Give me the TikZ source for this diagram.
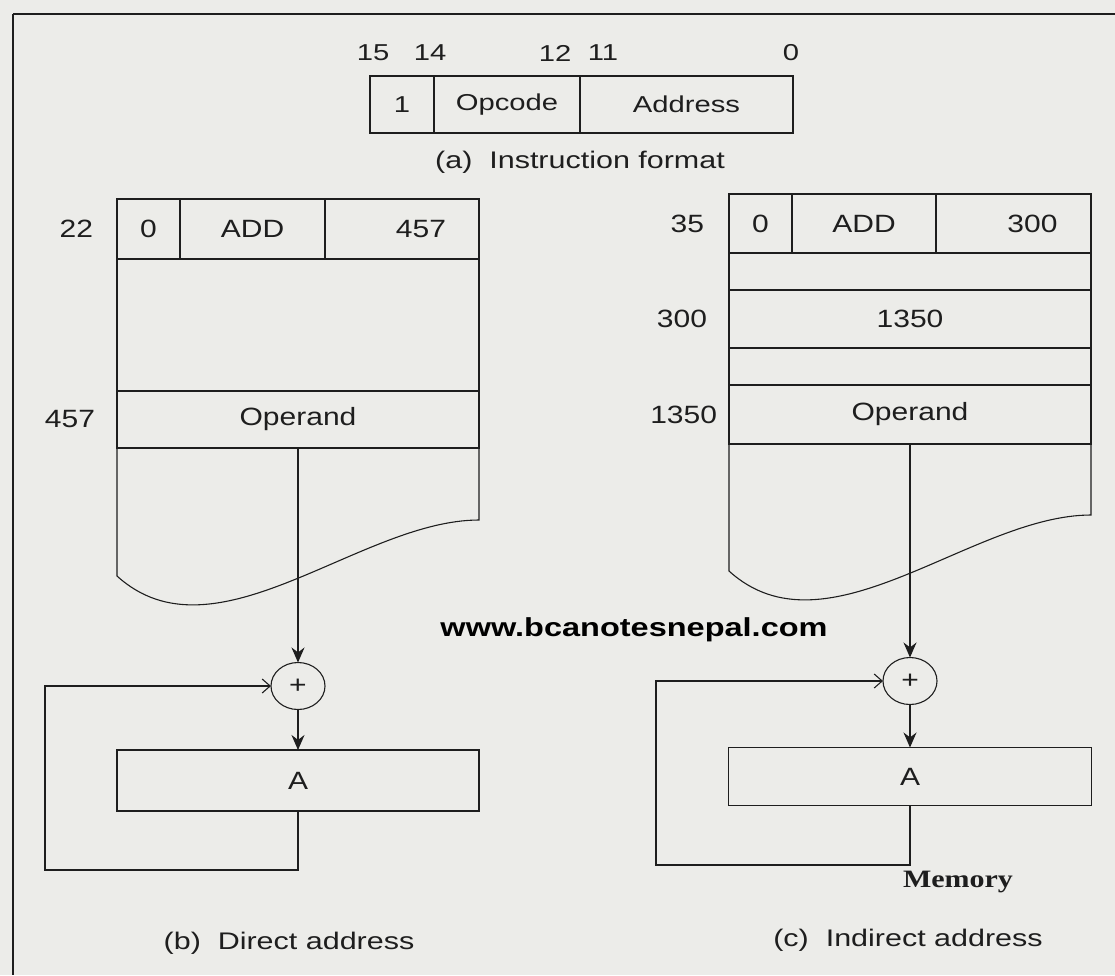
\documentclass[tikz,border=0pt]{standalone}
\usepackage{fontspec}
\setmainfont{Liberation Sans}
\newfontfamily\memfont[FakeStretch=1.2]{Liberation Sans}
\newfontfamily\fmtfont[FakeStretch=1.27]{Liberation Sans}
\newfontfamily\tagfont[FakeStretch=1.2]{Liberation Serif}
\newfontfamily\webfont[FakeStretch=1.25]{Liberation Sans}
\usetikzlibrary{arrows.meta,positioning,shapes.geometric}
\definecolor{paper}{RGB}{236,236,233}
\definecolor{ink}{RGB}{30,30,30}
\newcommand\memsize{\memfont\fontsize{25}{30}\selectfont}
\newcommand\fmtsize{\fmtfont\fontsize{23}{28}\selectfont}
\tikzset{
  base/.style={
    inner sep=0pt,
    outer sep=0pt,
    text=ink,
  },
  cell/.style={
    base,
    draw=ink,
    line width=1.2pt,
    font=\memsize,
  },
  fmtcell/.style={
    cell,
    minimum height=57pt,
    font=\fmtsize,
  },
  addr/.style={
    base,
    font=\memsize,
  },
  bitno/.style={
    base,
    font=\fmtsize,
  },
  capt/.style={
    base,
    font=\fmtfont\fontsize{24}{28}\selectfont,
  },
  adder/.style={
    base,
    ellipse,
    draw=ink,
    line width=1.1pt,
    minimum width=54pt,
    minimum height=47pt,
    font=\memsize,
  },
  link/.style={
    draw=ink,
    line width=1.1pt,
  },
  feed/.style={
    link, -{Stealth[length=15pt,width=13pt]},
  },
  loopback/.style={
    link, -{Straight Barb[length=8pt,width=14pt]},
  }
}

\begin{document}
\begin{tikzpicture}[x=1pt,y=-1pt]
    \fill[paper] (0,0) rectangle (1115,975);
    \useasboundingbox (0,0) rectangle (1115,975);
    \draw[draw=ink, line width=2.4pt] (1115,14) -- (13,14);
    \draw[draw=ink, line width=1.4pt] (13,14) -- (13,975);

    % (a) Instruction format
    \node [fmtcell, minimum width=64pt] (f-ind) at (402,104.5) {1};
    \node [fmtcell, minimum width=146pt, right=0pt of f-ind] (f-op) {Opcode};
    \node [fmtcell, minimum width=213pt, right=0pt of f-op] (f-adr) {Address};
    \node [bitno] (bit15) at (373,53) {15};
    \node [bitno] (bit14) at (430,53) {14};
    \node [bitno] (bit12) at (555,53) {12};
    \node [bitno] (bit11) at (603,53) {11};
    \node [bitno] (bit0) at (791,53) {0};
    \node [capt] (f-cap) at (580,162) {(a)\ \ Instruction format};

    % (b) Direct address
    \node [cell, minimum width=63pt, minimum height=60pt] (b-ind) at (148.5,229) {0};
    \node [cell, minimum width=145pt, minimum height=60pt, right=0pt of b-ind] (b-op) {ADD};
    \node [cell, minimum width=154pt, minimum height=60pt, right=0pt of b-op] (b-adr) {};
    \node [addr, xshift=19pt] (b-adrtxt) at (b-adr) {457};
    \node [cell, minimum width=362pt, minimum height=132pt, anchor=north west]
      (b-gap) at (b-ind.south west) {};
    \node [cell, minimum width=362pt, minimum height=57pt, anchor=north west]
      (b-opnd) at (b-gap.south west) {Operand};
    \draw[link] (b-opnd.south west) -- (117,576)
      .. controls (215,665) and (360,520) .. (479,520) -- (b-opnd.south east);
    \node [addr, left=24pt of b-ind] (b-lbl-ins) {22};
    \node [addr, left=22pt of b-opnd] (b-lbl-opnd) {457};

    \node [adder, below=214.5pt of b-opnd] (b-add) {+};
    \node [cell, minimum width=362pt, minimum height=61pt, below=40.5pt of b-add] (b-acc) {A};
    \coordinate (b-corner) at (45,870);
    \draw[feed] (b-opnd.south) -- (b-add.north);
    \draw[feed] (b-add.south) -- (b-acc.north);
    \draw[loopback] (b-acc.south) |- (b-corner) |- (b-add.west);
    \node [capt] (b-cap) at (289,943) {(b)\ \ Direct address};

    % (c) Indirect address
    \node [cell, minimum width=63pt, minimum height=59pt] (c-ind) at (760.5,223.5) {0};
    \node [cell, minimum width=144pt, minimum height=59pt, right=0pt of c-ind] (c-op) {ADD};
    \node [cell, minimum width=155pt, minimum height=59pt, right=0pt of c-op] (c-adr) {};
    \node [addr, xshift=19pt] (c-adrtxt) at (c-adr) {300};
    \node [cell, minimum width=362pt, minimum height=37pt, anchor=north west]
      (c-gap1) at (c-ind.south west) {};
    \node [cell, minimum width=362pt, minimum height=58pt, anchor=north west]
      (c-ptr) at (c-gap1.south west) {1350};
    \node [cell, minimum width=362pt, minimum height=37pt, anchor=north west]
      (c-gap2) at (c-ptr.south west) {};
    \node [cell, minimum width=362pt, minimum height=59pt, anchor=north west]
      (c-opnd) at (c-gap2.south west) {Operand};
    \draw[link] (c-opnd.south west) -- (729,571)
      .. controls (827,660) and (972,515) .. (1091,515) -- (c-opnd.south east);
    \node [addr, left=25pt of c-ind] (c-lbl-ins) {35};
    \node [addr, left=22pt of c-ptr] (c-lbl-ptr) {300};
    \node [addr, left=12pt of c-opnd] (c-lbl-opnd) {1350};

    \node [adder, below=213.5pt of c-opnd] (c-add) {+};
    \node [cell, minimum width=363pt, minimum height=58pt, below=43pt of c-add] (c-acc) {A};
    \coordinate (c-corner) at (656,865);
    \draw[feed] (c-opnd.south) -- (c-add.north);
    \draw[feed] (c-add.south) -- (c-acc.north);
    \draw[loopback] (c-acc.south) |- (c-corner) |- (c-add.west);
    \node [base, font=\tagfont\bfseries\fontsize{25}{30}\selectfont] (c-mem) at (958,882) {Memory};
    \node [capt] (c-cap) at (908,940) {(c)\ \ Indirect address};

    % site mark
    \node [base, text=black, font=\webfont\bfseries\fontsize{26}{30}\selectfont]
      (web) at (634,630) {www.bcanotesnepal.com};
\end{tikzpicture}
\end{document}
